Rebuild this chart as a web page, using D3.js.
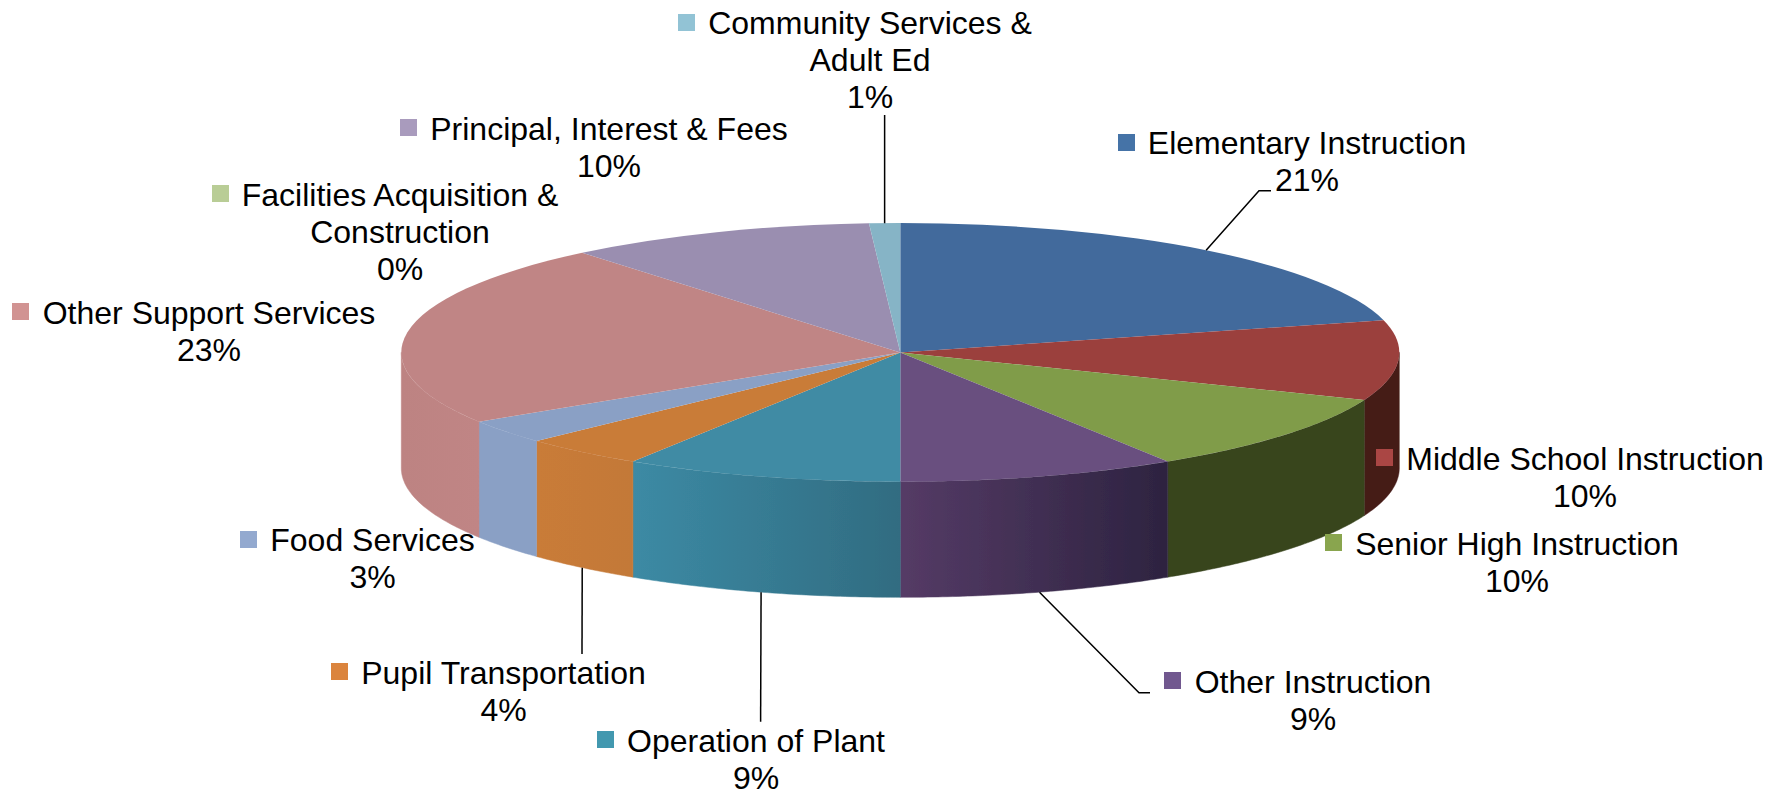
<!DOCTYPE html>
<html>
<head>
<meta charset="utf-8">
<script src="https://cdn.jsdelivr.net/npm/d3@7"></script>
<style>
  html, body { margin: 0; padding: 0; background: #fff; }
  svg { display: block; }
  text { font-family: "Liberation Sans", Arial, sans-serif; font-size: 32px; fill: #000; }
</style>
</head>
<body>
<svg width="1775" height="799"></svg>
<script>
'use strict';
//..........Data................
const categories = ['Elementary Instruction', 'Middle School Instruction', 'Senior High Instruction',
  'Other Instruction', 'Operation of Plant', 'Pupil Transportation', 'Food Services',
  'Other Support Services', 'Facilities Acquisition & Construction', 'Principal, Interest & Fees',
  'Community Services & Adult Ed'];
const values = [21, 10, 10, 9, 9, 4, 3, 23, 0, 10, 1];

//..........Colours................
const keyColors = ['#4573a7', '#aa4644', '#89a54e', '#71588f', '#4298af', '#db843d', '#93a9cf', '#d19392', '#b9cd96', '#a99bbd', '#92c3d5'];
const topColors = ['#426a9c', '#9b3f3e', '#809c4a', '#69507f', '#3f8ba4', '#c97b39', '#8aa0c5', '#c08585', '#b9cd96', '#9a8eb0', '#86b4c6'];
const sideFrom = ['#2b4565', '#451a17', '#38441e', '#553b66', '#3c8aa4', '#c97b39', '#8aa0c5', '#bd8382', '#b9cd96', '#9a8eb0', '#86b4c6'];
const sideTo = ['#2b4565', '#451a17', '#38441e', '#2d2340', '#316c81', '#c37938', '#8aa0c5', '#c08585', '#b9cd96', '#9a8eb0', '#86b4c6'];

//..........Label layout: wrapped text, text centre, first baseline, key corner, leader end
const labelLines = [['Elementary Instruction'], ['Middle School Instruction'], ['Senior High Instruction'],
  ['Other Instruction'], ['Operation of Plant'], ['Pupil Transportation'], ['Food Services'],
  ['Other Support Services'], ['Facilities Acquisition &', 'Construction'], ['Principal, Interest & Fees'],
  ['Community Services &', 'Adult Ed']];
const labelX = [1307, 1585, 1517, 1313, 756, 503.5, 372.5, 209, 400, 609, 870];
const labelY = [154, 470, 555, 693, 752, 684, 551, 324, 206, 140, 34];
const keyX = [1118, 1376, 1325, 1164, 597, 331, 240, 12, 212, 400, 678];
const keyY = [134, 449, 534, 672, 731, 663, 531, 303, 185, 119, 14];
const leaderBend = { 0: [[1259, 190.7], [1271, 190.7]], 3: [[1139, 692.7], [1150, 692.7]], 4: [[760.6, 721.7]], 5: [[582, 654]], 10: [[884.6, 115]] };

//..........Pie shape................
const pieBox = { cx: 900.3, cy: 352.4, rx: 499, ry: 129.3, depth: 115.6 };
const lineHeight = 37;
const keySize = 17;

const svg = d3.select('svg');
const defs = svg.append('defs');
defs.append('filter').attr('id', 'soft')
  .attr('x', '-2%').attr('y', '-2%').attr('width', '104%').attr('height', '104%')
  .append('feGaussianBlur').attr('stdDeviation', 0.6);

const pie = d3.pie().sort(null).value(d => d);
const slices = pie(values);
const arc = d3.arc().innerRadius(0).outerRadius(pieBox.rx);

// angle on the rim -> screen position, 0 is twelve o'clock, going clockwise
const rimX = a => pieBox.cx + pieBox.rx * Math.sin(a);
const rimY = a => pieBox.cy - pieBox.ry * Math.cos(a);

const side = d3.area()
  .x(a => rimX(a))
  .y0(a => rimY(a))
  .y1(a => rimY(a) + pieBox.depth);

const pieGroup = svg.append('g').attr('filter', 'url(#soft)');

//..........Side walls (only the front half shows)................
slices.forEach((s, i) => {
  const from = Math.max(s.startAngle, Math.PI / 2);
  const to = Math.min(s.endAngle, Math.PI * 3 / 2);
  if (to <= from) return;
  const grad = defs.append('linearGradient')
    .attr('id', `side${i}`)
    .attr('gradientUnits', 'userSpaceOnUse')
    .attr('x1', Math.min(rimX(from), rimX(to))).attr('x2', Math.max(rimX(from), rimX(to)))
    .attr('y1', 0).attr('y2', 0);
  grad.append('stop').attr('offset', 0).attr('stop-color', sideFrom[i]);
  grad.append('stop').attr('offset', 1).attr('stop-color', sideTo[i]);
  const steps = d3.range(from, to, 0.01).concat([to]);
  pieGroup.append('path')
    .attr('d', side(steps))
    .attr('fill', `url(#side${i})`)
    .attr('stroke', `url(#side${i})`)
    .attr('stroke-width', 0.5);
});

//..........Top face................
pieGroup.append('g')
  .attr('transform', `translate(${pieBox.cx} ${pieBox.cy}) scale(1 ${pieBox.ry / pieBox.rx})`)
  .selectAll('path')
  .data(slices)
  .join('path')
  .attr('d', arc)
  .attr('fill', (d, i) => topColors[i]);

//..........Leader lines................
const leader = d3.line();
slices.forEach((s, i) => {
  if (!leaderBend[i]) return;
  const mid = (s.startAngle + s.endAngle) / 2;
  const front = Math.cos(mid) < 0 ? pieBox.depth : 0;
  const pts = [[rimX(mid), rimY(mid) + front]].concat(leaderBend[i]);
  svg.append('path')
    .attr('d', leader(pts))
    .attr('fill', 'none')
    .attr('stroke', '#000')
    .attr('stroke-width', 1.5);
});

//..........Labels................
categories.forEach((name, i) => {
  const g = svg.append('g').attr('class', 'label');
  g.append('rect')
    .attr('x', keyX[i]).attr('y', keyY[i])
    .attr('width', keySize).attr('height', keySize)
    .attr('fill', keyColors[i]);
  const lines = labelLines[i].concat([`${values[i]}%`]);
  lines.forEach((t, j) => {
    g.append('text')
      .attr('x', labelX[i])
      .attr('y', labelY[i] + j * lineHeight)
      .attr('text-anchor', 'middle')
      .text(t);
  });
});
</script>
</body>
</html>
